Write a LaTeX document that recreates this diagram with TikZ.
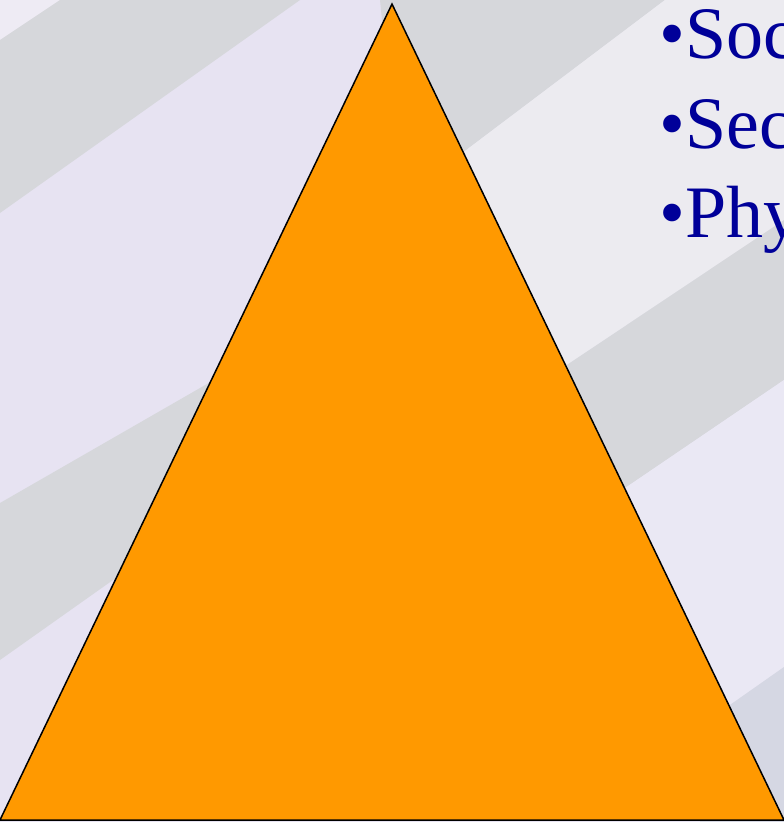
\documentclass[tikz,border=0pt]{standalone}
\usepackage{fontspec}
\setmainfont{Liberation Serif}
\definecolor{bglav}{HTML}{E7E3F2}
\definecolor{bglight}{HTML}{ECEBF0}
\definecolor{bglow}{HTML}{EAE8F4}
\definecolor{bandgray}{HTML}{D6D7DB}
\definecolor{bandblue}{HTML}{D5D7E3}
\definecolor{cornerlight}{HTML}{EEEBF4}
\definecolor{pyramid}{HTML}{FF9900}
\definecolor{textblue}{HTML}{000099}
\tikzset{
  band/.style={fill=bandgray, draw=none},
  pyr/.style={fill=pyramid, draw=black, line width=1.5pt, line join=miter},
  bullettext/.style={text=textblue, inner sep=0pt, anchor=base west,
    font=\fontsize{74}{89}\selectfont}
}
\begin{document}
\begin{tikzpicture}[x=1pt,y=-1pt]
\useasboundingbox (0,0) rectangle (784,822);
\clip (0,0) rectangle (784,822);
% background
\fill[bglav] (0,0) rectangle (784,822);
\fill[cornerlight] (0,0) -- (60,0) -- (0,40) -- cycle;
\fill[band] (60,0) -- (300,0) -- (0,213) -- (0,40) -- cycle;
\fill[band] (380,0) -- (665,0) -- (400,200) -- cycle;
\fill[bglight] (665,0) -- (784,0) -- (784,220) -- (450,443) -- (400,200) -- cycle;
\fill[band] (784,220) -- (784,380) -- (500,573) -- (450,443) -- cycle;
\fill[bglow] (784,380) -- (784,667) -- (700,726) -- (500,573) -- cycle;
\fill[band] (0,503) -- (240,365) -- (250,483) -- (0,660) -- cycle;
\fill[bandblue] (784,667) -- (784,822) -- (700,822) -- (700,726) -- cycle;
% pyramid
\coordinate (apex) at (392,4);
\coordinate (bl) at (0,820);
\coordinate (br) at (784,820);
\draw[pyr] (apex) -- (bl) -- (br) -- cycle;
% text
\node[bullettext] (soc) at (659,58) {•Soc};
\node[bullettext] (sec) at (659,148) {•Sec};
\node[bullettext] (phy) at (659,237) {•Phy};
\end{tikzpicture}
\end{document}
